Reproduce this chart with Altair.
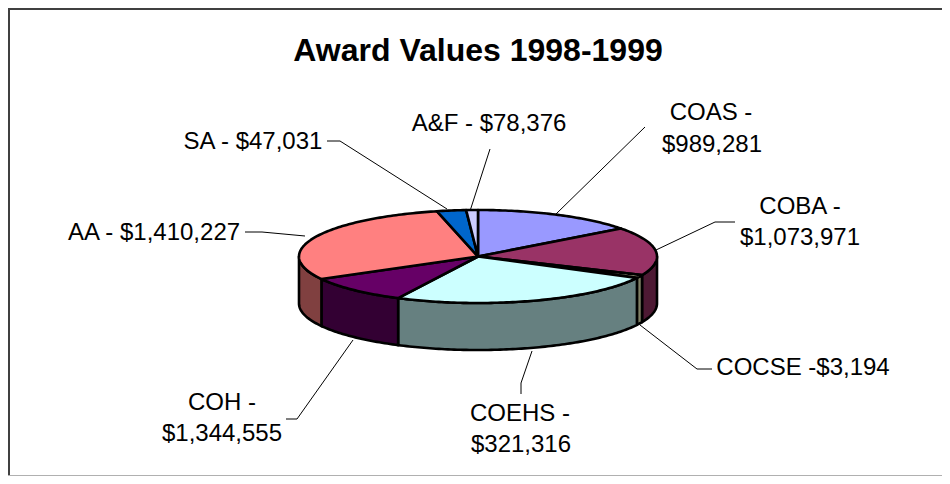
import math
import altair as alt

# Slices in drawing order, clockwise from twelve o'clock
labels = ["COAS", "COBA", "COCSE", "COEHS", "COH", "AA", "SA", "A&F"]
award_text = ["$989,281", "$1,073,971", "$3,194", "$321,316", "$1,344,555", "$1,410,227", "$47,031", "$78,376"]
# Slice sweeps (degrees)
sweep_degrees = [53.0, 60.6, 3.8, 89.1, 34.5, 105.7, 9.5, 3.8]
top_colors = ["#9999FF", "#993366", "#FFFFCC", "#CCFFFF", "#660066", "#FF8080", "#0066CC", "#CCCCFF"]
side_colors = ["#4D4D80", "#4D1933", "#808066", "#668080", "#330033", "#804040", "#003366", "#666680"]

title_text = "Award Values 1998-1999"

# Pie geometry (page pixels)
CX, CY, RX, RY, DEPTH = 478.0, 256.5, 179.0, 46.5, 47.0

# Label lines: text, centre x, middle y
label_lines = [
    ("COAS -", 711, 113), ("$989,281", 712, 145),
    ("COBA -", 800, 207), ("$1,073,971", 800, 238),
    ("COCSE -$3,194", 803, 368),
    ("COEHS -", 520, 414), ("$321,316", 521, 445),
    ("COH -", 222, 403), ("$1,344,555", 222, 434),
    ("AA - $1,410,227", 154, 233),
    ("SA - $47,031", 253, 142),
    ("A&F - $78,376", 489, 124),
]
# Leader lines
leaders = [
    [(645, 127), (556, 214)],
    [(735, 222), (715, 222), (656, 250)],
    [(712, 369), (697, 369), (640, 325)],
    [(521, 394), (521, 383), (532, 351)],
    [(286, 419), (297, 419), (353, 340)],
    [(245, 232), (262, 232), (305, 236)],
    [(327, 141), (340, 141), (447, 209)],
    [(490, 149), (470, 211)],
]
# Frame edges: what the page margin allows
frame_edges = [
    ([(9, 475), (9, 9), (942, 9)], "#404040", 2),
    ([(8, 475.5), (942, 475.5)], "#B0B0B0", 1),
]

FONT = "Liberation Sans"


def pt(deg, dy=0.0):
    a = math.radians(deg)
    return [CX + RX * math.sin(a), CY - RY * math.cos(a) + dy]


def arc(a0, a1, dy=0.0):
    n = max(2, int(abs(a1 - a0)) + 2)
    return [pt(a0 + (a1 - a0) * i / (n - 1), dy) for i in range(n)]


top_features, side_features = [], []
start = 0.0
for name, sw, tc, sc in zip(labels, sweep_degrees, top_colors, side_colors):
    end = start + sw
    ring = [[CX, CY]] + arc(start, end) + [[CX, CY]]
    top_features.append({"type": "Feature", "properties": {"name": name, "fill": tc},
                         "geometry": {"type": "Polygon", "coordinates": [ring]}})
    lo, hi = max(start, 90.0), min(end, 270.0)
    if hi > lo:
        ring = arc(lo, hi) + arc(hi, lo, DEPTH)
        ring.append(ring[0])
        side_features.append({"type": "Feature", "properties": {"name": name, "fill": sc},
                              "geometry": {"type": "Polygon", "coordinates": [ring]}})
    start = end

leader_features = [{"type": "Feature", "properties": {},
                    "geometry": {"type": "LineString", "coordinates": [list(p) for p in l]}}
                   for l in leaders]
frame_features = [{"type": "Feature", "properties": {"c": c, "w": w},
                   "geometry": {"type": "LineString", "coordinates": [list(p) for p in l]}}
                  for l, c, w in frame_edges]
label_rows = [{"text": t, "x": x, "y": y} for t, x, y in label_lines]


def shapes(features, **kw):
    return alt.Chart(alt.Data(values=features)).mark_geoshape(**kw).project(
        type="identity", scale=1, translate=[-8, -8])


frame = shapes(frame_features, filled=False).encode(
    stroke=alt.Stroke("properties.c:N", scale=None),
    strokeWidth=alt.StrokeWidth("properties.w:Q", scale=None))
sides = shapes(side_features, stroke="black", strokeWidth=2.6, strokeJoin="round").encode(
    fill=alt.Fill("properties.fill:N", scale=None))
tops = shapes(top_features, stroke="black", strokeWidth=2.6, strokeJoin="round").encode(
    fill=alt.Fill("properties.fill:N", scale=None))
lines = shapes(leader_features, filled=False, stroke="black", strokeWidth=1)
texts = alt.Chart(alt.Data(values=label_rows)).mark_text(
    font=FONT, fontSize=24, color="black", align="center", baseline="middle"
).encode(longitude="x:Q", latitude="y:Q", text="text:N").project(
    type="identity", scale=1, translate=[-8, -8])

chart = alt.layer(frame, lines, sides, tops, texts).properties(
    width=934, height=468, padding=0,
    autosize=alt.AutoSizeParams(type="none"),
    background="white",
    title=alt.TitleParams(title_text, font=FONT, fontSize=32, fontWeight="bold",
                          color="black", anchor="middle", dy=64, dx=3),
).configure_view(stroke=None)

chart.save("out.html", embed_options={"renderer": "svg", "actions": False})
